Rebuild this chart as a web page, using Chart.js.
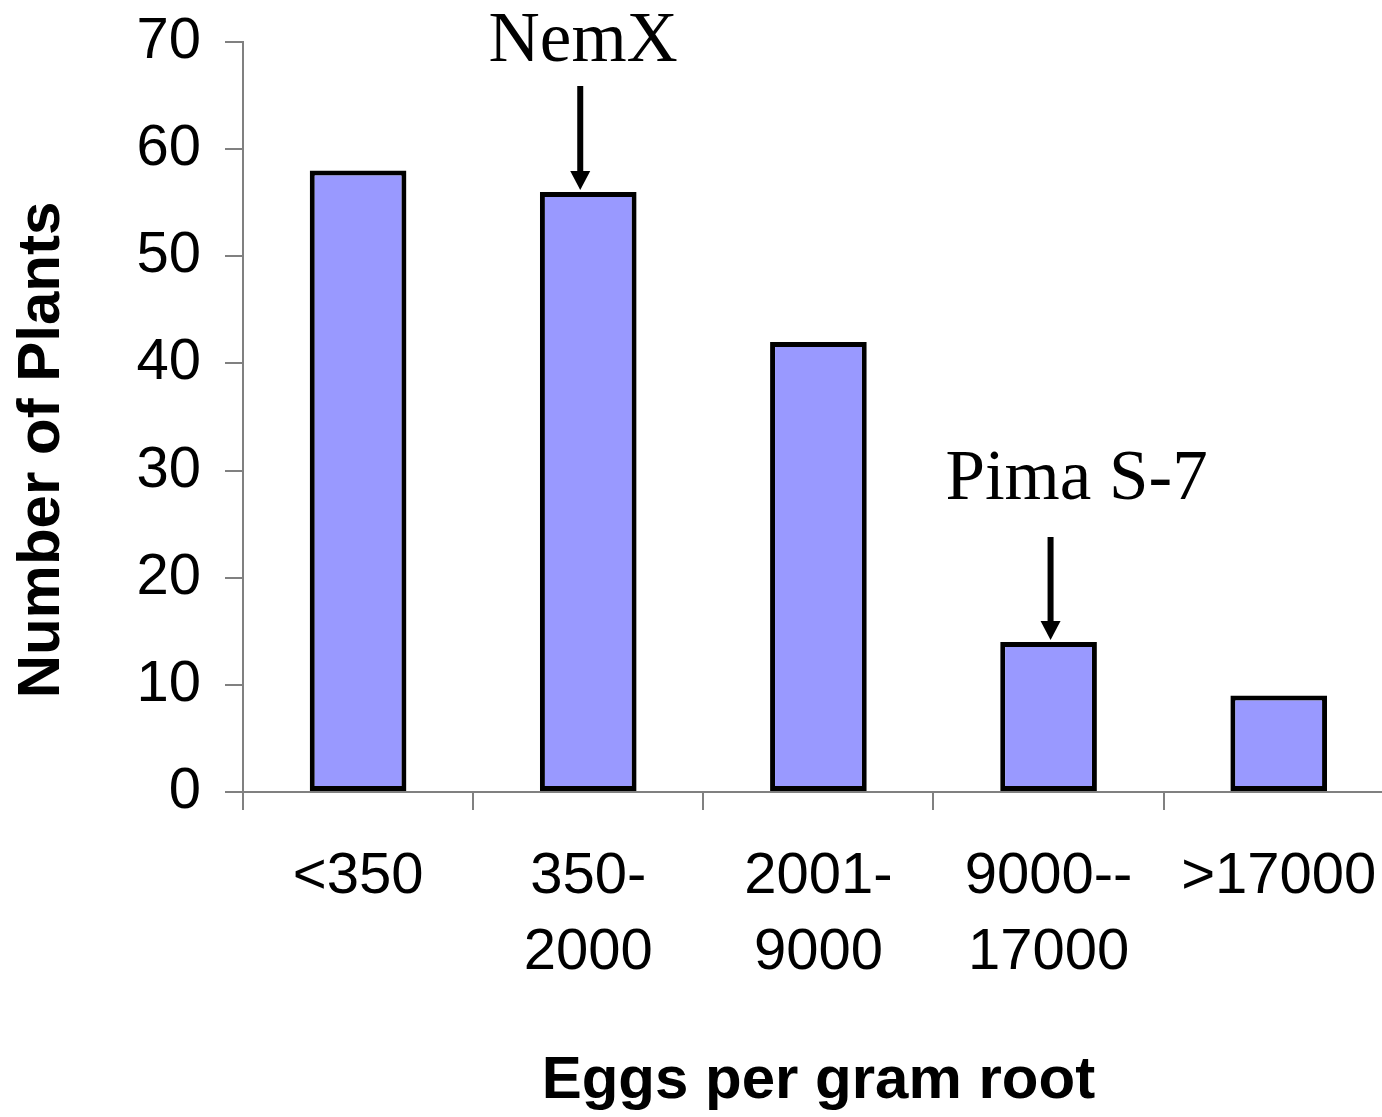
<!DOCTYPE html>
<html>
<head>
<meta charset="utf-8">
<script src="https://cdn.jsdelivr.net/npm/chart.js@4/dist/chart.umd.min.js"></script>
<style>
  html, body { margin: 0; padding: 0; background: #ffffff; overflow: hidden; }
  #wrap { width: 1406px; height: 1117px; position: relative; }
</style>
</head>
<body>
<div id="wrap"><canvas id="chart"></canvas></div>
<script>
// Egg-count classes (x categories) and the number of plants in each
const categories = ['<350', ['350-', '2000'], ['2001-', '9000'], ['9000--', '17000'], '>17000'];
const plantCounts = [58, 56, 42, 14, 9];

// Y axis range and step
const yTickMin = 0;
const yTickMax = 70;
const yTickStep = 10;

// Named cultivars marked with an arrow above their class
const noteLabels = ['NemX', 'Pima S-7'];
const noteCategory = [1, 3];

const SANS = '"Liberation Sans", Arial, sans-serif';
const SERIF = '"Liberation Serif", "Times New Roman", serif';

// Arrow + label callouts, anchored on the bar tops through the scales
const noteStyle = [
  { arrowDx: -8, textDx: -5, gap: 25, length: 104 },
  { arrowDx: 2, textDx: 28, gap: 38, length: 103 }
];

const calloutPlugin = {
  id: 'callouts',
  afterDatasetsDraw(chart) {
    const ctx = chart.ctx;
    const xs = chart.scales.x;
    const ys = chart.scales.y;
    ctx.save();
    noteLabels.forEach((label, i) => {
      const idx = noteCategory[i];
      const st = noteStyle[i];
      const cx = xs.getPixelForValue(idx);
      const tipY = ys.getPixelForValue(plantCounts[idx]) - 2;
      const ax = cx + st.arrowDx;
      const topY = tipY - st.length;
      const headH = 19, headW = 20;
      ctx.strokeStyle = '#000';
      ctx.fillStyle = '#000';
      ctx.lineWidth = 6;
      ctx.beginPath();
      ctx.moveTo(ax, topY);
      ctx.lineTo(ax, tipY - headH + 2);
      ctx.stroke();
      ctx.beginPath();
      ctx.moveTo(ax - headW / 2, tipY - headH);
      ctx.lineTo(ax + headW / 2, tipY - headH);
      ctx.lineTo(ax, tipY);
      ctx.closePath();
      ctx.fill();
      ctx.font = '71px ' + SERIF;
      ctx.textAlign = 'center';
      ctx.textBaseline = 'alphabetic';
      ctx.fillText(label, cx + st.textDx, topY - st.gap);
    });
    ctx.restore();
  }
};

// Vertical axis title, drawn a little below the plot centre
const yTitlePlugin = {
  id: 'yTitle',
  afterDraw(chart) {
    const ctx = chart.ctx;
    const area = chart.chartArea;
    ctx.save();
    ctx.translate(42, (area.top + area.bottom) / 2 + 33);
    ctx.rotate(-Math.PI / 2);
    ctx.font = 'bold 60px ' + SANS;
    ctx.fillStyle = '#000';
    ctx.textAlign = 'center';
    ctx.textBaseline = 'middle';
    ctx.fillText('Number of Plants', 0, 0);
    ctx.restore();
  }
};

new Chart(document.getElementById('chart'), {
  type: 'bar',
  data: {
    labels: categories,
    datasets: [{
      data: plantCounts,
      backgroundColor: '#9999ff',
      borderColor: '#000000',
      borderWidth: 5,
      borderSkipped: false,
      barPercentage: 0.42,
      categoryPercentage: 1.0
    }]
  },
  options: {
    responsive: true,
    maintainAspectRatio: false,
    animation: false,
    layout: { padding: { top: 42, right: 7, left: 0, bottom: 0 } },
    plugins: {
      legend: { display: false },
      tooltip: { enabled: false }
    },
    scales: {
      x: {
        offset: true,
        afterFit(scale) { scale.height = 325; },
        grid: {
          display: true,
          offset: true,
          drawOnChartArea: false,
          drawTicks: true,
          tickLength: 18,
          color: '#808080',
          lineWidth: 2
        },
        border: { display: true, color: '#808080', width: 2 },
        ticks: {
          color: '#000',
          font: { family: SANS, size: 58, lineHeight: 1.31 },
          padding: 29,
          maxRotation: 0,
          autoSkip: false
        },
        title: {
          display: true,
          text: 'Eggs per gram root',
          color: '#000',
          font: { family: SANS, size: 60, weight: 'bold' },
          padding: { top: 0, bottom: 0 }
        }
      },
      y: {
        min: yTickMin,
        max: yTickMax,
        afterFit(scale) { scale.width = 243; },
        grid: {
          display: true,
          drawOnChartArea: false,
          drawTicks: true,
          tickLength: 18,
          color: '#808080',
          lineWidth: 2
        },
        border: { display: true, color: '#808080', width: 2 },
        ticks: {
          stepSize: yTickStep,
          color: '#000',
          font: { family: SANS, size: 58, lineHeight: 0.6 },
          padding: 24
        }
      }
    }
  },
  plugins: [calloutPlugin, yTitlePlugin]
});
</script>
</body>
</html>
